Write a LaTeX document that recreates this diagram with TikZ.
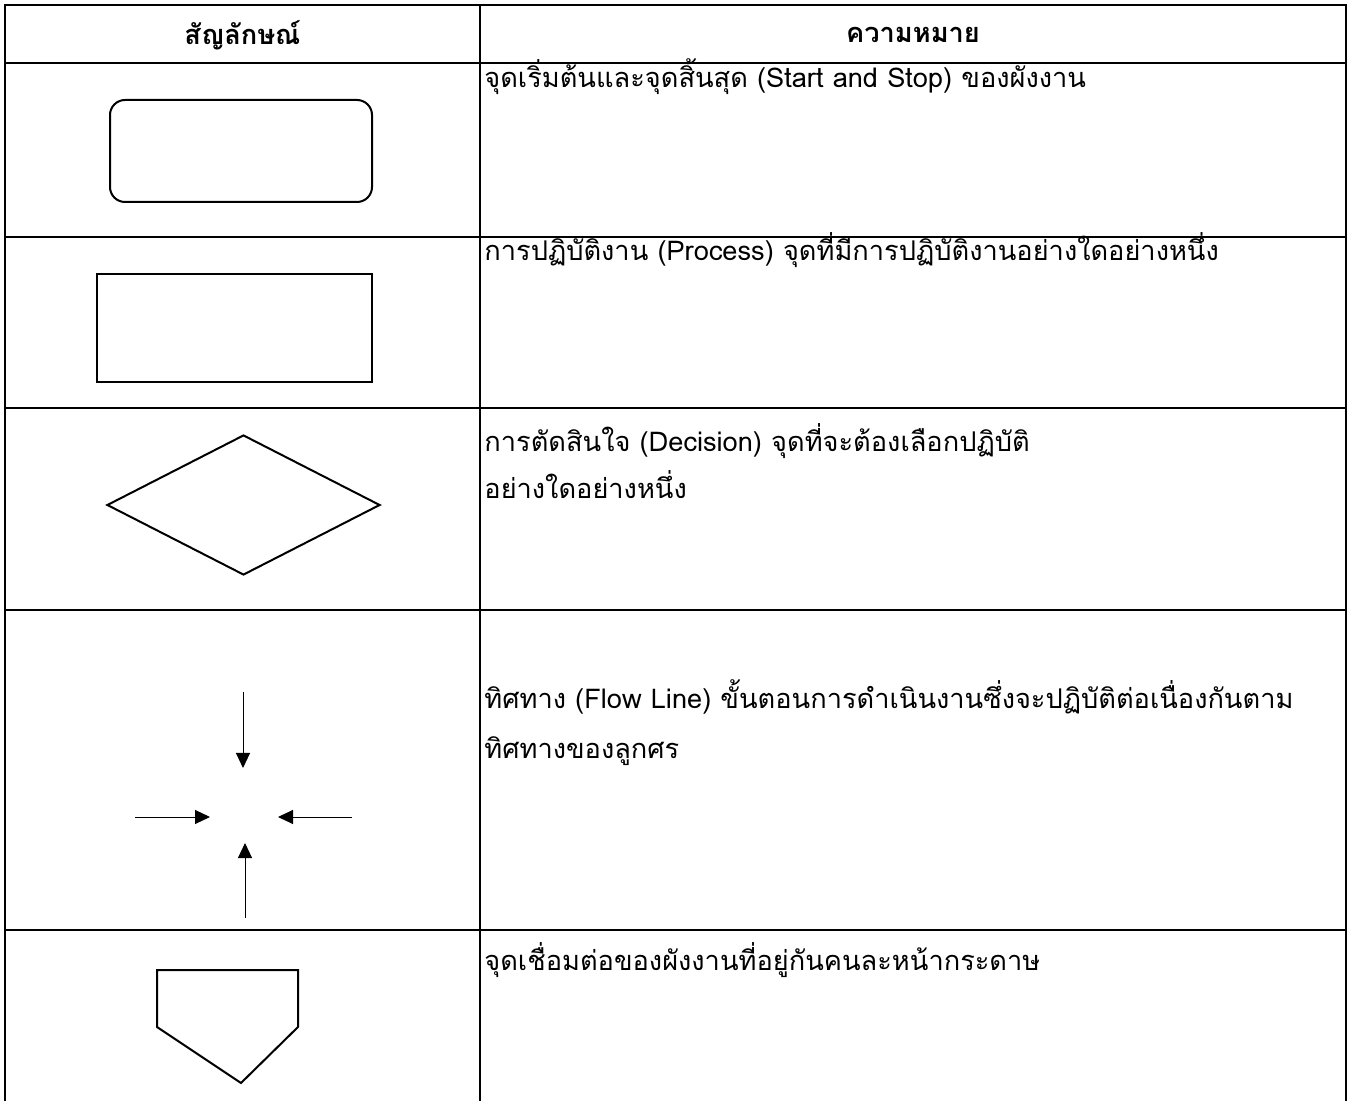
\documentclass[tikz,border=0pt]{standalone}
\usepackage{fontspec}
\newfontfamily\thaifont[Script=Thai]{Loma}
\usetikzlibrary{positioning, shapes.geometric, arrows.meta}

\begin{document}
\begin{tikzpicture}[x=0.5pt, y=-0.5pt, font=\thaifont\fontsize{13.6}{22}\selectfont,
	grid/.style={line width=1.3pt},
	sym/.style={draw, line width=1pt, inner sep=0pt},
	flow/.style={-{Triangle[length=7.5pt,width=7pt]}, line width=0.5pt},
	txt/.style={anchor=base west, inner sep=0pt}]
	\useasboundingbox (0,0) rectangle (1351,1101);
	% table
	\draw[grid] (5,1101) |- (1346,5) -- (1346,1101);
	\draw[grid] (480,5) -- (480,1101);
	\foreach \y in {63,237,408,610,930}
		\draw[grid] (5,\y) -- (1346,\y);
	% header
	\node[font=\thaifont\bfseries\fontsize{13.6}{22}\selectfont] (hsym) at (242.5,35) {สัญลักษณ์};
	\node[font=\thaifont\bfseries\fontsize{13.6}{22}\selectfont] (hmean) at (913,35) {ความหมาย};
	% symbols
	\node[sym, rounded corners=7.5pt, minimum width=131pt, minimum height=51pt] (start) at (241,151) {};
	\node[sym, minimum width=137.5pt, minimum height=54pt] (proc) at (234.5,328) {};
	\node[sym, diamond, minimum width=136.5pt, minimum height=70pt] (dec) at (243.5,505) {};
	\coordinate (mid) at (244,817);
	\coordinate (n) at (243,692);
	\coordinate (w) at (135,817);
	\coordinate (e) at (352,817);
	\coordinate (s) at (245,918);
	\draw[flow] (n) -- (243,768);
	\draw[flow] (w) -- (210,817);
	\draw[flow] (e) -- (278,817);
	\draw[flow] (s) -- (245,843);
	\coordinate (c1) at (157,970);
	\coordinate (c2) at (298,970);
	\coordinate (c3) at (298,1027);
	\coordinate (c4) at (241,1083);
	\coordinate (c5) at (157,1027);
	\draw[line width=1pt] (c1) -- (c2) -- (c3) -- (c4) -- (c5) -- cycle;
	% meanings
	\node[txt] (t1) at (484,88) {จุดเริ่มต้นและจุดสิ้นสุด (Start and Stop) ของผังงาน};
	\node[txt] (t2) at (484,261) {การปฏิบัติงาน (Process) จุดที่มีการปฏิบัติงานอย่างใดอย่างหนึ่ง};
	\node[txt] (t3) at (484,452) {การตัดสินใจ (Decision) จุดที่จะต้องเลือกปฏิบัติ};
	\node[txt] (t3b) at (484,499) {อย่างใดอย่างหนึ่ง};
	\node[txt] (t4) at (484,709) {ทิศทาง (Flow Line) ขั้นตอนการดำเนินงานซึ่งจะปฏิบัติต่อเนื่องกันตาม};
	\node[txt] (t4b) at (484,759) {ทิศทางของลูกศร};
	\node[txt] (t5) at (484,970) {จุดเชื่อมต่อของผังงานที่อยู่กันคนละหน้ากระดาษ};
\end{tikzpicture}
\end{document}
